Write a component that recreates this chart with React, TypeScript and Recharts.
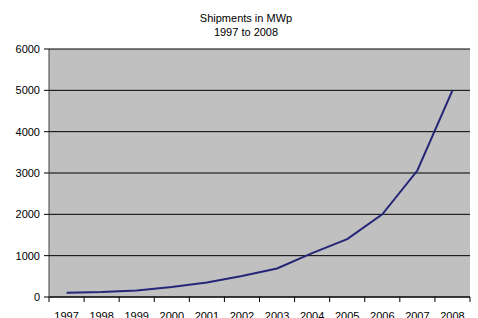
import { CartesianGrid, Line, LineChart, XAxis, YAxis } from "recharts";

const years = ["1997", "1998", "1999", "2000", "2001", "2002", "2003", "2004", "2005", "2006", "2007", "2008"];
const shipments = [100, 120, 160, 240, 350, 510, 690, 1060, 1400, 2000, 3060, 5000];
const yTicks = [0, 1000, 2000, 3000, 4000, 5000, 6000];
const xBounds = years.map((_, i) => i).concat(years.length);

const data = years.map((year, i) => ({ year, pos: i + 0.5, mwp: shipments[i] }));

const font = "'Liberation Sans', Arial, sans-serif";
const plotLeft = 49;
const plotRight = 470;
const bandWidth = (plotRight - plotLeft) / years.length;

function YearTick(props: any) {
  const { x, y, payload } = props;
  const label = years[payload.value];
  if (!label) return null;
  return (
    <text x={x + bandWidth / 2} y={y + 16} textAnchor="middle" fontSize={11} fontFamily={font} fill="#000">
      {label}
    </text>
  );
}

export default function App() {
  return (
    <div style={{ position: "absolute", left: 0, top: 0, width: 478, height: 318, background: "#fff" }}>
      <div
        style={{
          position: "absolute",
          left: 0,
          width: 492,
          top: 11,
          textAlign: "center",
          fontFamily: font,
          fontSize: 11,
          lineHeight: "14px",
          color: "#000",
        }}
      >
        Shipments in MWp
        <br />
        1997 to 2008
      </div>
      <LineChart width={478} height={318} data={data} margin={{ top: 49, right: 8, bottom: 0, left: 0 }}>
        <CartesianGrid fill="#c0c0c0" vertical={false} stroke="#000" strokeOpacity={1} />
        <XAxis
          type="number"
          dataKey="pos"
          domain={[0, years.length]}
          ticks={xBounds}
          interval={0}
          height={21}
          tick={<YearTick />}
          tickSize={5}
          axisLine={{ stroke: "#000" }}
          tickLine={{ stroke: "#000" }}
        />
        <YAxis
          domain={[0, 6000]}
          ticks={yTicks}
          interval={0}
          width={49}
          tickSize={5}
          tickMargin={4}
          tick={{ fontSize: 11, fontFamily: font, fill: "#000" }}
          axisLine={{ stroke: "#404040" }}
          tickLine={{ stroke: "#000" }}
        />
        <YAxis yAxisId="r" orientation="right" width={0} tick={false} tickLine={false} axisLine={{ stroke: "#808080" }} />
        <Line
          type="linear"
          dataKey="mwp"
          stroke="#262678"
          strokeWidth={2}
          dot={false}
          isAnimationActive={false}
        />
      </LineChart>
    </div>
  );
}
